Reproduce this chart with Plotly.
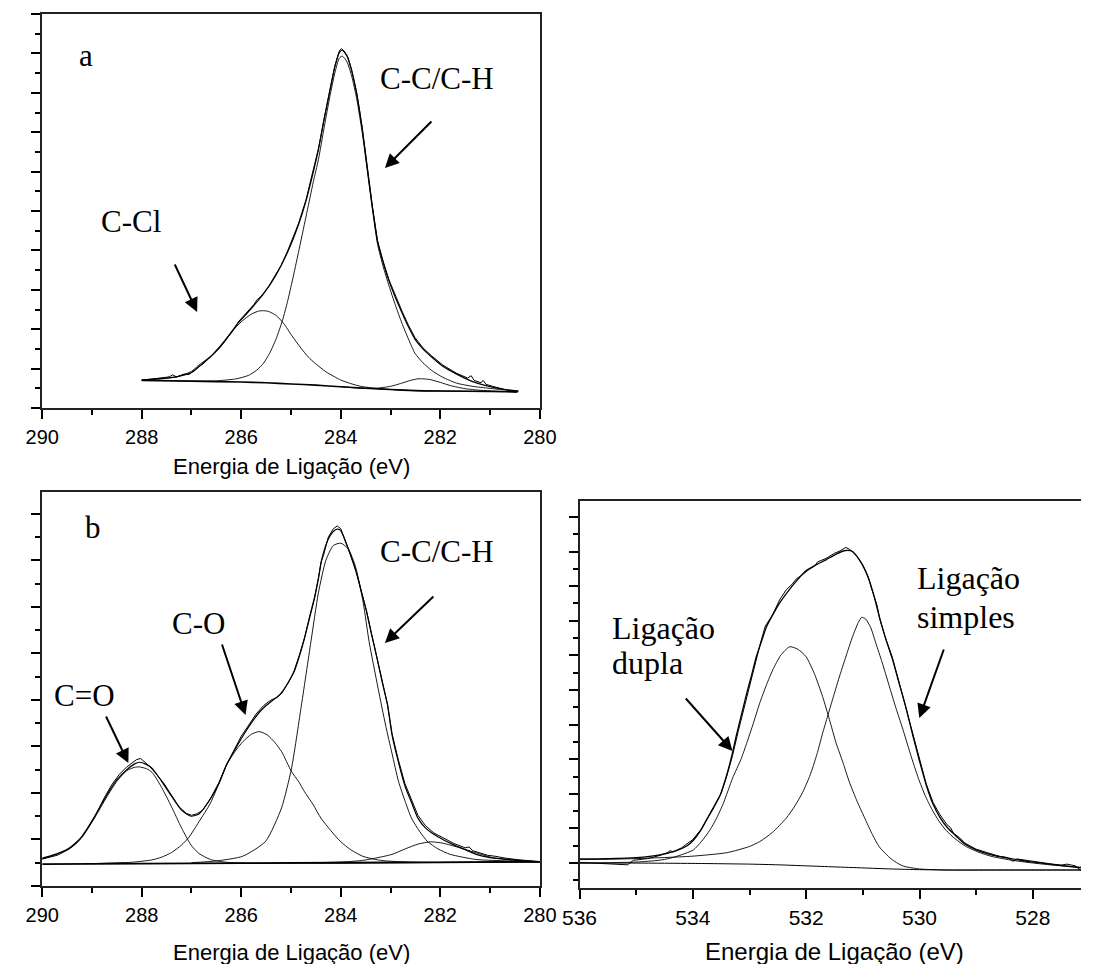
import plotly.graph_objects as go

# ---------------- Panel a : C 1s (PVC) ----------------
a_bg_x = [288.0, 287.0, 286.0, 285.5, 285.0, 284.5, 284.0, 283.5, 283.0, 282.5, 282.0, 281.0, 280.45]
a_bg_y = [0.70, 0.68, 0.66, 0.64, 0.61, 0.58, 0.54, 0.50, 0.47, 0.44, 0.43, 0.42, 0.41]

a_ccl_x = [288.0, 287.6, 287.3, 287.0, 286.85, 286.6, 286.47, 286.2, 286.0, 285.8, 285.65, 285.55, 285.45,
           285.3, 285.15, 284.98, 284.8, 284.65, 284.53, 284.3, 284.0, 283.8, 283.6, 283.3, 283.0, 282.5,
           282.0, 281.0, 280.45]
a_ccl_y = [0.71, 0.74, 0.79, 0.93, 1.09, 1.33, 1.51, 1.92, 2.19, 2.38, 2.46, 2.47, 2.45,
           2.35, 2.15, 1.83, 1.52, 1.29, 1.15, 0.92, 0.71, 0.62, 0.55, 0.50, 0.47, 0.44,
           0.43, 0.42, 0.41]

a_cc_x = [288.0, 287.0, 286.5, 286.1, 285.85, 285.69, 285.55, 285.43, 285.3, 285.17, 285.07, 284.97, 284.85,
          284.7, 284.55, 284.45, 284.33, 284.22, 284.12, 284.03, 283.97, 283.88, 283.78, 283.68, 283.57,
          283.47, 283.37, 283.26, 283.15, 283.03, 282.9, 282.77, 282.64, 282.51, 282.35, 282.18, 281.95,
          281.67, 281.35, 281.02, 280.7, 280.43]
a_cc_y = [0.71, 0.69, 0.69, 0.74, 0.83, 0.96, 1.14, 1.39, 1.75, 2.23, 2.70, 3.25, 3.95,
          4.85, 5.75, 6.30, 7.15, 7.90, 8.50, 8.88, 8.93, 8.80, 8.42, 7.85, 7.00,
          6.05, 5.10, 4.15, 3.60, 3.10, 2.60, 2.15, 1.75, 1.39, 1.15, 0.96, 0.78,
          0.63, 0.55, 0.50, 0.46, 0.43]

a_sm_x = [284.0, 283.6, 283.3, 283.0, 282.8, 282.6, 282.45, 282.35, 282.2, 282.0, 281.8, 281.5, 281.2, 280.9, 280.45]
a_sm_y = [0.54, 0.50, 0.50, 0.55, 0.62, 0.70, 0.74, 0.74, 0.72, 0.65, 0.57, 0.49, 0.45, 0.43, 0.41]

a_fit_x = [288.0, 287.6, 287.3, 287.0, 286.85, 286.6, 286.47, 286.3, 286.1, 285.85, 285.55, 285.3, 285.07,
           284.85, 284.7, 284.55, 284.45, 284.33, 284.22, 284.12, 284.03, 283.97, 283.88, 283.78, 283.68,
           283.57, 283.47, 283.37, 283.26, 283.15, 283.03, 282.9, 282.77, 282.64, 282.51, 282.35, 282.18,
           281.95, 281.67, 281.35, 281.02, 280.7, 280.43]
a_fit_y = [0.71, 0.75, 0.79, 0.90, 1.05, 1.32, 1.48, 1.75, 2.10, 2.45, 2.90, 3.38, 3.95,
           4.65, 5.25, 6.00, 6.55, 7.35, 8.05, 8.65, 9.02, 9.08, 8.95, 8.55, 7.98,
           7.10, 6.12, 5.15, 4.22, 3.70, 3.22, 2.80, 2.42, 2.06, 1.75, 1.50, 1.30,
           1.06, 0.86, 0.67, 0.55, 0.47, 0.43]

a_raw_x = [288.0, 287.8, 287.6, 287.45, 287.38, 287.3, 287.15, 287.05, 286.9, 286.75, 286.6, 286.47, 286.35,
           286.28, 286.2, 286.05, 285.9, 285.75, 285.68, 285.6, 285.45, 285.3, 285.2, 285.07, 284.95,
           284.85, 284.7, 284.55, 284.45, 284.33, 284.22, 284.12, 284.03, 283.99, 283.93, 283.85, 283.78,
           283.68, 283.57, 283.47, 283.37, 283.26, 283.15, 283.03, 282.9, 282.77, 282.64, 282.51, 282.35,
           282.18, 281.95, 281.67, 281.45, 281.38, 281.32, 281.18, 281.14, 281.08, 280.95, 280.8, 280.6,
           280.52, 280.45]
a_raw_y = [0.70, 0.73, 0.76, 0.79, 0.84, 0.79, 0.86, 0.85, 1.00, 1.14, 1.33, 1.50, 1.66,
           1.78, 1.90, 2.20, 2.40, 2.62, 2.75, 2.84, 3.08, 3.40, 3.62, 3.98, 4.35,
           4.68, 5.28, 6.03, 6.58, 7.38, 8.08, 8.68, 9.06, 9.12, 9.06, 8.88, 8.58,
           8.00, 7.12, 6.14, 5.17, 4.24, 3.73, 3.25, 2.84, 2.46, 2.10, 1.79, 1.53,
           1.33, 1.09, 0.88, 0.76, 0.82, 0.70, 0.64, 0.70, 0.60, 0.55, 0.50, 0.45,
           0.41, 0.43]

# ---------------- Panel b : C 1s (oxidised) ----------------
b_bg_x = [290.0, 288.0, 286.0, 284.0, 282.0, 280.0]
b_bg_y = [0.47, 0.48, 0.49, 0.50, 0.51, 0.52]

b_co2_x = [290.0, 289.74, 289.48, 289.22, 288.96, 288.7, 288.5, 288.3, 288.15, 288.05, 287.9, 287.79, 287.6,
           287.4, 287.2, 287.01, 286.85, 286.62, 286.3, 285.8, 284.5, 283.0, 280.0]
b_co2_y = [0.58, 0.67, 0.79, 1.02, 1.44, 1.92, 2.25, 2.48, 2.55, 2.56, 2.52, 2.44, 2.12,
           1.70, 1.25, 0.88, 0.70, 0.57, 0.51, 0.49, 0.49, 0.50, 0.52]

b_co_x = [289.0, 288.5, 288.2, 287.8, 287.6, 287.4, 287.2, 287.05, 286.85, 286.62, 286.45, 286.29, 286.12,
          285.97, 285.8, 285.64, 285.48, 285.32, 285.19, 284.99, 284.85, 284.73, 284.55, 284.4, 284.2,
          284.01, 283.8, 283.56, 283.3, 283.1, 282.5, 281.5, 280.0]
b_co_y = [0.48, 0.50, 0.51, 0.56, 0.62, 0.72, 0.88, 1.05, 1.38, 1.78, 2.20, 2.61, 2.90,
          3.10, 3.26, 3.32, 3.25, 3.08, 2.89, 2.46, 2.25, 2.03, 1.74, 1.46, 1.19,
          0.96, 0.78, 0.64, 0.57, 0.54, 0.51, 0.51, 0.52]

b_cc_x = [287.0, 286.49, 285.97, 285.51, 285.19, 284.99, 284.8, 284.6, 284.45, 284.3, 284.15, 284.0, 283.85,
          283.7, 283.55, 283.43, 283.25, 283.1, 282.97, 282.84, 282.7, 282.58, 282.42, 282.26, 282.05,
          281.8, 281.28, 280.63, 280.0]
b_cc_y = [0.50, 0.54, 0.64, 0.96, 1.68, 2.53, 3.82, 5.25, 6.30, 7.00, 7.32, 7.37, 7.25,
          6.85, 6.10, 5.25, 4.25, 3.46, 2.85, 2.25, 1.80, 1.46, 1.18, 0.96, 0.80,
          0.68, 0.57, 0.54, 0.52]

b_sm_x = [284.5, 283.9, 283.56, 283.3, 282.97, 282.7, 282.45, 282.19, 281.95, 281.6, 281.3, 280.95, 280.5, 280.0]
b_sm_y = [0.50, 0.52, 0.55, 0.60, 0.68, 0.80, 0.90, 0.95, 0.92, 0.82, 0.72, 0.61, 0.55, 0.52]

b_fit_x = [290.0, 289.74, 289.48, 289.22, 288.96, 288.7, 288.5, 288.3, 288.15, 288.05, 287.9, 287.79, 287.6,
           287.4, 287.2, 287.01, 286.85, 286.62, 286.45, 286.29, 286.1, 285.97, 285.8, 285.64, 285.5,
           285.36, 285.22, 285.1, 284.94, 284.83, 284.73, 284.63, 284.53, 284.45, 284.38, 284.25, 284.15,
           284.07, 284.0, 283.9, 283.8, 283.69, 283.58, 283.48, 283.38, 283.27, 283.16, 283.06, 282.97,
           282.85, 282.71, 282.58, 282.45, 282.3, 282.13, 281.95, 281.74, 281.5, 281.28, 281.0, 280.63,
           280.3, 280.04]
b_fit_y = [0.60, 0.68, 0.80, 1.04, 1.47, 1.96, 2.28, 2.50, 2.62, 2.66, 2.61, 2.53, 2.25,
           1.93, 1.63, 1.50, 1.55, 1.87, 2.20, 2.62, 2.98, 3.22, 3.50, 3.73, 3.88,
           4.00, 4.12, 4.30, 4.60, 4.95, 5.32, 5.75, 6.17, 6.60, 7.03, 7.46, 7.62,
           7.67, 7.64, 7.39, 7.10, 6.75, 6.30, 5.89, 5.40, 4.89, 4.35, 3.89, 3.25,
           2.70, 2.15, 1.80, 1.46, 1.25, 1.11, 1.00, 0.89, 0.78, 0.68, 0.61, 0.57,
           0.54, 0.52]

b_raw_x = [290.0, 289.85, 289.7, 289.55, 289.45, 289.35, 289.3, 289.2, 289.05, 288.9, 288.75, 288.6, 288.45,
           288.3, 288.18, 288.1, 288.02, 287.95, 287.85, 287.7, 287.55, 287.4, 287.25, 287.1, 287.0,
           286.9, 286.78, 286.62, 286.45, 286.3, 286.15, 286.0, 285.85, 285.7, 285.55, 285.4, 285.28,
           285.18, 285.05, 284.94, 284.83, 284.73, 284.63, 284.53, 284.45, 284.4, 284.35, 284.25, 284.15,
           284.07, 284.0, 283.9, 283.8, 283.69, 283.58, 283.48, 283.38, 283.27, 283.16, 283.06, 282.97,
           282.85, 282.71, 282.58, 282.45, 282.3, 282.13, 281.95, 281.74, 281.5, 281.42, 281.35, 281.2,
           281.05, 280.9, 280.7, 280.4, 280.04]
b_raw_y = [0.58, 0.62, 0.66, 0.74, 0.80, 0.88, 0.93, 1.06, 1.30, 1.58, 1.90, 2.18, 2.40,
           2.56, 2.66, 2.72, 2.74, 2.68, 2.58, 2.40, 2.20, 1.95, 1.70, 1.56, 1.52,
           1.55, 1.62, 1.88, 2.22, 2.60, 2.92, 3.22, 3.46, 3.70, 3.88, 4.00, 4.05,
           4.15, 4.38, 4.62, 4.97, 5.33, 5.78, 6.20, 6.62, 6.95, 7.10, 7.50, 7.68,
           7.74, 7.68, 7.42, 7.12, 6.76, 6.32, 5.90, 5.42, 4.90, 4.37, 3.90, 3.28,
           2.74, 2.20, 1.86, 1.52, 1.30, 1.14, 1.04, 0.92, 0.82, 0.84, 0.76, 0.71,
           0.66, 0.64, 0.60, 0.56, 0.53]

# ---------------- Panel c : O 1s ----------------
c_bg_x = [536.0, 535.0, 534.0, 533.0, 532.5, 532.0, 531.5, 531.0, 530.5, 530.0, 529.5, 528.5, 527.15]
c_bg_y = [0.00, 0.00, -0.01, -0.03, -0.05, -0.08, -0.11, -0.14, -0.17, -0.19, -0.20, -0.20, -0.20]

c_dup_x = [536.0, 535.5, 535.0, 534.6, 534.4, 534.2, 533.99, 533.85, 533.7, 533.58, 533.46, 533.3, 533.15,
           533.05, 532.93, 532.82, 532.7, 532.59, 532.45, 532.29, 532.15, 532.0, 531.85, 531.71, 531.59,
           531.47, 531.35, 531.24, 531.1, 530.95, 530.83, 530.71, 530.5, 530.3, 530.0, 529.5, 528.5, 527.15]
c_dup_y = [0.00, 0.01, 0.03, 0.08, 0.14, 0.24, 0.38, 0.62, 0.95, 1.30, 1.73, 2.45, 3.00,
           3.46, 4.05, 4.62, 5.15, 5.58, 6.00, 6.25, 6.18, 5.96, 5.45, 4.81, 4.15,
           3.46, 2.90, 2.35, 1.78, 1.24, 0.82, 0.47, 0.12, -0.08, -0.17, -0.20, -0.20, -0.20]

c_sim_x = [536.0, 535.5, 535.0, 534.5, 534.0, 533.4, 533.0, 532.82, 532.6, 532.35, 532.2, 532.06, 531.94,
           531.88, 531.8, 531.71, 531.62, 531.53, 531.42, 531.3, 531.18, 531.08, 531.02, 530.95, 530.86,
           530.77, 530.66, 530.54, 530.42, 530.3, 530.16, 530.02, 529.9, 529.78, 529.66, 529.54, 529.37,
           529.19, 528.95, 528.72, 528.4, 528.14, 527.7, 527.15]
c_sim_y = [0.10, 0.11, 0.13, 0.16, 0.20, 0.30, 0.48, 0.62, 0.88, 1.30, 1.65, 2.05, 2.50,
           2.78, 3.20, 3.75, 4.25, 4.75, 5.35, 5.96, 6.55, 6.95, 7.10, 7.05, 6.80,
           6.35, 5.80, 5.15, 4.50, 3.90, 3.15, 2.45, 1.95, 1.55, 1.22, 0.96, 0.70,
           0.49, 0.31, 0.19, 0.09, 0.03, -0.05, -0.12]

c_fit_x = [536.0, 535.5, 535.0, 534.58, 534.29, 534.1, 533.99, 533.87, 533.76, 533.64, 533.52, 533.41, 533.32,
           533.23, 533.14, 533.05, 532.96, 532.88, 532.79, 532.7, 532.58, 532.47, 532.32, 532.18, 532.0,
           531.82, 531.65, 531.48, 531.3, 531.18, 531.06, 530.97, 530.89, 530.8, 530.71, 530.6, 530.48,
           530.36, 530.24, 530.12, 530.0, 529.88, 529.76, 529.64, 529.52, 529.4, 529.2, 529.0, 528.7,
           528.43, 528.1, 527.84, 527.5, 527.15]
c_fit_y = [0.12, 0.13, 0.16, 0.24, 0.36, 0.50, 0.66, 0.92, 1.24, 1.58, 1.95, 2.50, 3.05,
           3.70, 4.30, 4.90, 5.45, 5.96, 6.40, 6.83, 7.20, 7.51, 7.85, 8.13, 8.45,
           8.62, 8.76, 8.92, 9.03, 9.00, 8.76, 8.50, 8.18, 7.70, 7.12, 6.50, 5.90,
           5.20, 4.50, 3.70, 2.95, 2.25, 1.70, 1.32, 1.05, 0.85, 0.55, 0.38, 0.22,
           0.14, 0.05, 0.00, -0.07, -0.14]

c_raw_x = [536.0, 535.7, 535.4, 535.15, 535.05, 534.8, 534.58, 534.45, 534.4, 534.35, 534.2, 534.0, 533.85,
           533.75, 533.62, 533.5, 533.4, 533.3, 533.2, 533.1, 533.0, 532.9, 532.8, 532.72, 532.6,
           532.47, 532.35, 532.25, 532.18, 532.05, 531.95, 531.85, 531.8, 531.65, 531.5, 531.4, 531.3,
           531.22, 531.1, 531.0, 530.9, 530.85, 530.75, 530.7, 530.6, 530.48, 530.36, 530.24, 530.12,
           530.0, 529.88, 529.76, 529.64, 529.52, 529.45, 529.4, 529.3, 529.2, 529.0, 528.8, 528.6,
           528.45, 528.35, 528.28, 528.1, 527.9, 527.7, 527.5, 527.4, 527.25, 527.15]
c_raw_y = [0.02, -0.01, -0.03, -0.05, 0.08, 0.13, 0.22, 0.30, 0.36, 0.32, 0.44, 0.68, 0.98,
           1.28, 1.65, 2.02, 2.52, 3.10, 3.80, 4.45, 5.10, 5.80, 6.40, 6.85, 7.15,
           7.60, 7.90, 8.05, 8.20, 8.35, 8.48, 8.58, 8.70, 8.80, 8.95, 9.02, 9.12,
           9.05, 8.85, 8.60, 8.25, 7.95, 7.45, 7.05, 6.50, 5.95, 5.20, 4.50, 3.72,
           2.97, 2.28, 1.75, 1.40, 1.12, 1.02, 0.86, 0.74, 0.58, 0.40, 0.30, 0.20,
           0.16, 0.05, 0.12, 0.07, 0.03, -0.02, -0.06, -0.03, -0.08, -0.22]

AXIS_TITLE = "Energia de Ligação (eV)"
SANS = "Liberation Sans, Arial, sans-serif"
SERIF = "Liberation Serif, Times New Roman, serif"
W, H = 1098, 964


def px(x):
    return x / W


def py(y):
    return 1 - y / H


fig = go.Figure()


def add_curve(xs, ys, axis, width=1.0, smooth=True):
    fig.add_trace(go.Scatter(
        x=xs, y=ys, xaxis="x" + axis, yaxis="y" + axis, mode="lines",
        line=dict(color="black", width=width, shape="spline" if smooth else "linear",
                  smoothing=0.6 if smooth else None),
        hoverinfo="skip", showlegend=False))


# panel a
add_curve(a_bg_x, a_bg_y, "", 1.6)
add_curve(a_ccl_x, a_ccl_y, "", 0.9)
add_curve(a_cc_x, a_cc_y, "", 0.9)
add_curve(a_sm_x, a_sm_y, "", 0.9)
add_curve(a_fit_x, a_fit_y, "", 1.2)
add_curve(a_raw_x, a_raw_y, "", 1.0, smooth=False)
# panel b
add_curve(b_bg_x, b_bg_y, "2", 1.8)
add_curve(b_co2_x, b_co2_y, "2", 0.9)
add_curve(b_co_x, b_co_y, "2", 0.9)
add_curve(b_cc_x, b_cc_y, "2", 0.9)
add_curve(b_sm_x, b_sm_y, "2", 0.9)
add_curve(b_fit_x, b_fit_y, "2", 1.2)
add_curve(b_raw_x, b_raw_y, "2", 1.0, smooth=False)
# panel c
add_curve(c_bg_x, c_bg_y, "3", 1.0)
add_curve(c_dup_x, c_dup_y, "3", 0.9)
add_curve(c_sim_x, c_sim_y, "3", 0.9)
add_curve(c_fit_x, c_fit_y, "3", 1.3)
add_curve(c_raw_x, c_raw_y, "3", 1.0, smooth=False)


def xaxis_style(domain, rng, anchor, mirror=True, fsize=20):
    return dict(domain=domain, range=rng, anchor=anchor, dtick=2, tick0=0,
                ticks="outside", ticklen=9, tickwidth=1.5, tickcolor="black",
                minor=dict(dtick=1, ticks="outside", ticklen=5, tickwidth=1.5, tickcolor="black"),
                showline=True, linewidth=1.5, linecolor="#222", mirror=mirror,
                showgrid=False, zeroline=False, ticklabelstandoff=1,
                tickfont=dict(family=SANS, size=fsize, color="black"))


def yaxis_style(domain, rng, anchor, mirror=True):
    return dict(domain=domain, range=rng, anchor=anchor, dtick=1, tick0=0,
                ticks="outside", ticklen=9, tickwidth=1.5, tickcolor="black",
                minor=dict(dtick=0.5, ticks="outside", ticklen=5, tickwidth=1.5, tickcolor="black"),
                showline=True, linewidth=1.5, linecolor="#222", mirror=mirror,
                showgrid=False, zeroline=False, showticklabels=False)


fig.update_layout(
    width=W, height=H, margin=dict(l=0, r=0, t=0, b=0),
    paper_bgcolor="white", plot_bgcolor="white", showlegend=False,
    xaxis=xaxis_style([px(25), px(539)], [290, 280], "y"),
    yaxis=yaxis_style([py(408), py(14)], [0, 10], "x"),
    xaxis2=xaxis_style([px(25), px(539)], [290, 280], "y2"),
    yaxis2=yaxis_style([py(886), py(492)], [0, 8.47], "x2"),
    xaxis3=xaxis_style([px(580), 1.0], [536, 527.15], "y3", fsize=21),
    yaxis3=yaxis_style([py(888), py(501)], [-0.72, 10.46], "x3", mirror=False),
)

annotations = []


def label(text, x, y, size=31, xanchor="center"):
    annotations.append(dict(text=text, x=px(x), y=py(y), xref="paper", yref="paper",
                            showarrow=False, xanchor=xanchor, yanchor="middle",
                            font=dict(family=SERIF, size=size, color="black")))


def arrow(x_head, y_head, x_tail, y_tail):
    annotations.append(dict(text="", x=px(x_head), y=py(y_head), xref="paper", yref="paper",
                            ax=x_tail - x_head, ay=y_tail - y_head, axref="pixel", ayref="pixel",
                            showarrow=True, arrowhead=2, arrowsize=1.4, arrowwidth=2,
                            arrowcolor="black", standoff=0))


def axis_title(x, y, size):
    annotations.append(dict(text=AXIS_TITLE, x=px(x), y=py(y), xref="paper", yref="paper",
                            showarrow=False, xanchor="center", yanchor="middle",
                            font=dict(family=SANS, size=size, color="black")))


# panel a labels
label("a", 70, 55)
label("C-C/C-H", 433, 78)
label("C-Cl", 117, 222)
arrow(379, 168, 427, 120)
arrow(185, 312, 162, 263)
axis_title(282, 466, 22)

# panel b labels
label("b", 77, 527)
label("C-C/C-H", 433, 551)
label("C-O", 186, 623)
label("C=O", 69, 695)
arrow(379, 643, 429, 595)
arrow(235, 715, 211, 643)
arrow(114, 763, 91, 715)
axis_title(282, 952, 22)

# panel c labels
label("Ligação", 611, 628, 32, "left")
label("dupla", 611, 663, 32, "left")
label("Ligação", 927, 578, 32, "left")
label("simples", 927, 617, 32, "left")
arrow(738, 751, 690, 697)
arrow(931, 718, 956, 648)
axis_title(843, 951, 24)

fig.update_layout(annotations=annotations)
fig.write_html("out.html")
